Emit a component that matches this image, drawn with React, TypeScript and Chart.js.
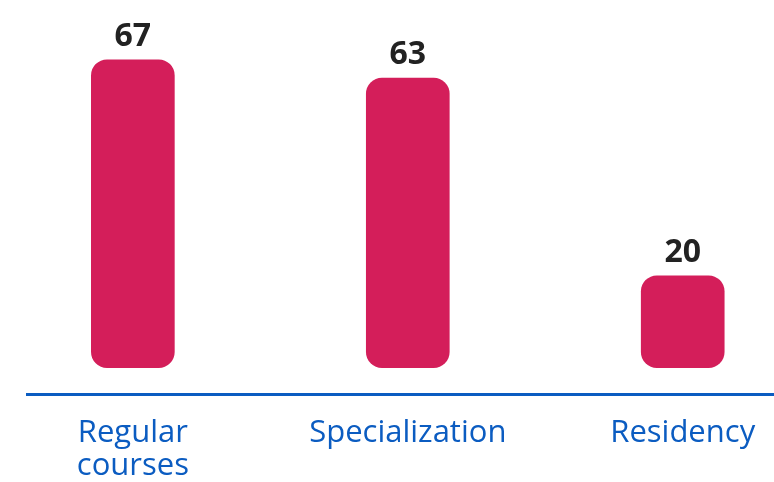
import React, { useEffect, useRef } from "react";
import { Chart, registerables } from "chart.js";

Chart.register(...registerables);

const categories: string[][] = [["Regular", "courses"], ["Specialization"], ["Residency"]];
const values: number[] = [67, 63, 20];

const BAR_COLOR = "#D41E5A";
const BLUE = "#0B5CC1";
const DARK = "#222222";

const valueLabels = {
  id: "valueLabels",
  afterDatasetsDraw(chart: any) {
    const ctx = chart.ctx;
    const meta = chart.getDatasetMeta(0);
    ctx.save();
    ctx.font = "bold 32px 'Open Sans'";
    ctx.fillStyle = DARK;
    ctx.textAlign = "center";
    ctx.textBaseline = "alphabetic";
    meta.data.forEach((bar: any, i: number) => {
      ctx.fillText(String(values[i]), bar.x, bar.y - 14);
    });
    ctx.restore();
  },
};

export default function App() {
  const ref = useRef<HTMLCanvasElement>(null);
  useEffect(() => {
    if (!ref.current) return;
    const chart = new Chart(ref.current, {
      type: "bar",
      data: {
        datasets: [
          {
            data: values.map((v, i) => ({ x: i, y: v })),
            backgroundColor: BAR_COLOR,
            borderRadius: 16,
            borderSkipped: false,
            barThickness: 83,
          },
        ],
      },
      options: {
        animation: false,
        responsive: false,
        maintainAspectRatio: false,
        layout: { padding: { left: 27, right: 0, top: 0, bottom: -15 } },
        plugins: { legend: { display: false }, tooltip: { enabled: false } },
        scales: {
          x: {
            type: "linear",
            offset: false,
            min: -0.385,
            max: 2.332,
            grid: { display: false },
            border: { display: true, color: BLUE, width: 3 },
            afterBuildTicks: (scale: any) => {
              scale.ticks = [0, 1, 2].map((v) => ({ value: v }));
            },
            ticks: {
              autoSkip: false,
              maxRotation: 0,
              color: BLUE,
              padding: 14,
              font: { family: "'Open Sans'", size: 31, lineHeight: 1.07 },
              callback: (v: any) => categories[v as number],
            },
          },
          y: {
            display: false,
            min: -5.87,
            max: 80,
          },
        },
      },
      plugins: [valueLabels],
    });
    return () => chart.destroy();
  }, []);
  return (
    <div style={{ position: "absolute", left: 0, top: 0, width: 774, height: 482 }}>
      <canvas ref={ref} width={774} height={482} style={{ width: 774, height: 482 }} />
    </div>
  );
}
